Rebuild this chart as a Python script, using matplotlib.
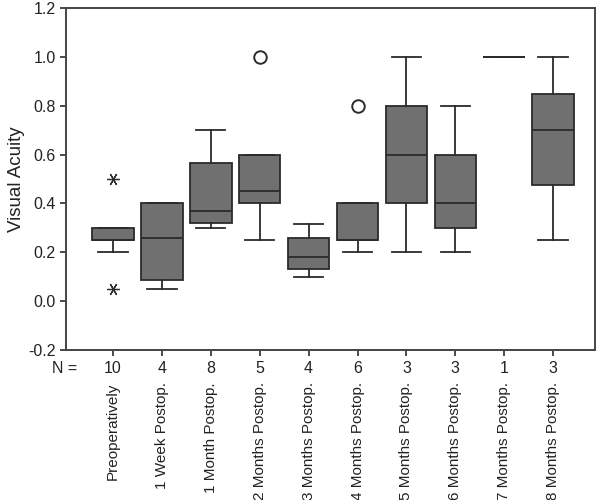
import numpy as np
import matplotlib.pyplot as plt
import matplotlib.transforms as mtransforms

plt.rcParams['font.family'] = ['Liberation Sans', 'DejaVu Sans']

# box statistics
groups = ["Preoperatively", "1 Week Postop.", "1 Month Postop.", "2 Months Postop.",
          "3 Months Postop.", "4 Months Postop.", "5 Months Postop.", "6 Months Postop.",
          "7 Months Postop.", "8 Months Postop."]
counts = [10, 4, 8, 5, 4, 6, 3, 3, 1, 3]
q1 = [0.25, 0.085, 0.32, 0.40, 0.13, 0.25, 0.40, 0.30, 1.0, 0.475]
med = [0.25, 0.26, 0.37, 0.45, 0.18, 0.25, 0.60, 0.40, 1.0, 0.70]
q3 = [0.30, 0.40, 0.565, 0.60, 0.26, 0.40, 0.80, 0.60, 1.0, 0.85]
whislo = [0.20, 0.05, 0.30, 0.25, 0.10, 0.20, 0.20, 0.20, 1.0, 0.25]
whishi = [0.30, 0.40, 0.70, 0.60, 0.315, 0.40, 1.00, 0.80, 1.0, 1.00]

# outliers (circles) and extremes (asterisks)
outlier_pos = [4, 6]
outlier_val = [1.0, 0.8]
extreme_pos = [1, 1]
extreme_val = [0.5, 0.05]

edge = '#2b2b2b'
face = '#707070'

fig = plt.figure(figsize=(6, 5), dpi=100)
ax = fig.add_axes([0.11, 0.30, 0.882, 0.684])

stats = []
for i in range(len(groups)):
    stats.append({'med': med[i], 'q1': q1[i], 'q3': q3[i],
                  'whislo': whislo[i], 'whishi': whishi[i], 'fliers': []})

positions = np.arange(1, len(groups) + 1)
ax.bxp(stats, positions=positions, widths=0.85, capwidths=0.6, patch_artist=True,
       showfliers=False,
       boxprops=dict(facecolor=face, edgecolor=edge, linewidth=1.3),
       medianprops=dict(color=edge, linewidth=1.3),
       whiskerprops=dict(color=edge, linewidth=1.3),
       capprops=dict(color=edge, linewidth=1.3))

ax.plot(outlier_pos, outlier_val, linestyle='none', marker='o', markersize=9,
        markerfacecolor='none', markeredgecolor=edge, markeredgewidth=1.4)
ax.plot(extreme_pos, extreme_val, linestyle='none', marker=(6, 2, 90), markersize=9,
        color=edge, markeredgewidth=0.9)

ax.set_xlim(0.04, 10.86)
ax.set_ylim(-0.2, 1.2)
ax.set_yticks(np.arange(-0.2, 1.21, 0.2))
ax.set_yticklabels(['-0.2', '0.0', '0.2', '0.4', '0.6', '0.8', '1.0', '1.2'])
ax.set_xticks(positions)
ax.set_xticklabels([str(c) for c in counts])
ax.tick_params(axis='both', colors=edge, labelcolor='#222222', labelsize=11.5,
               length=4, width=1.2, direction='out')
ax.tick_params(axis='x', pad=4)
for sp in ax.spines.values():
    sp.set_color('#444444')
    sp.set_linewidth(1.4)

ax.set_ylabel('Visual Acuity', fontsize=13.5, color='#222222', labelpad=2)

trans = mtransforms.blended_transform_factory(ax.transData, ax.transAxes)
for p, g in zip(positions, groups):
    ax.text(p, -0.095, g, transform=trans, rotation=90, ha='center', va='top',
            fontsize=11, color='#222222')
ax.text(-0.002, -0.055, 'N =', transform=ax.transAxes, ha='center', va='center',
        fontsize=11.5, color='#222222')

fig.savefig('out.png', dpi=100)
